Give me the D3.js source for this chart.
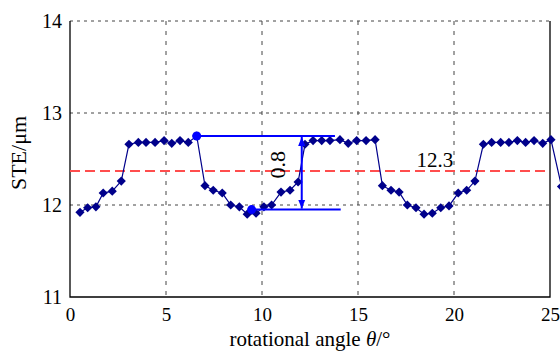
<!DOCTYPE html>
<html lang="en">
<head>
<meta charset="utf-8">
<script src="https://cdnjs.cloudflare.com/ajax/libs/d3/7.8.5/d3.min.js"></script>
<style>
  body { margin: 0; background: #fff; }
  svg { display: block; }
  svg text { font-family: "Liberation Serif", "Times New Roman", serif; fill: #000; }
</style>
</head>
<body>
<script>
var angles = [0.52, 0.92, 1.35, 1.73, 2.20, 2.67, 3.07, 3.56, 3.96, 4.43, 4.90, 5.30, 5.73, 6.16, 6.60,
  7.03, 7.46, 7.93, 8.37, 8.82, 9.23, 9.69, 10.10, 10.50, 10.99, 11.46, 11.88,
  12.24, 12.66, 13.11, 13.54, 14.06, 14.49, 14.93, 15.42, 15.89,
  16.27, 16.72, 17.14, 17.57, 18.02, 18.44, 18.87, 19.31, 19.74, 20.22, 20.66, 21.09,
  21.53, 21.96, 22.43, 22.86, 23.30, 23.73, 24.17, 24.62, 25.05, 25.60]
var ste = [11.92, 11.97, 11.98, 12.13, 12.15, 12.26, 12.66, 12.68, 12.68, 12.68, 12.70, 12.67, 12.70, 12.68, 12.75,
  12.21, 12.16, 12.13, 12.00, 11.98, 11.90, 11.91, 11.98, 12.00, 12.14, 12.16, 12.25,
  12.66, 12.70, 12.70, 12.70, 12.71, 12.67, 12.70, 12.70, 12.71,
  12.21, 12.16, 12.14, 12.00, 11.97, 11.90, 11.91, 11.97, 11.99, 12.13, 12.16, 12.26,
  12.66, 12.68, 12.68, 12.68, 12.70, 12.68, 12.70, 12.67, 12.71, 12.20]

var xTicks = [0, 5, 10, 15, 20, 25]
var yTicks = [11, 12, 13, 14]
var meanValue = 12.37
var meanLabel = "12.3"
// peak-to-valley annotation
var peak = {angle: 6.60, value: 12.75, lineEnd: 13.8}
var valley = {angle: 9.46, value: 11.95, lineEnd: 14.1}
var arrowAngle = 12.07
var rangeLabel = "0.8"

var width = 560, height = 356
var navy = "#00008b", blue = "#0000ff"

var x = d3.scaleLinear().domain([0, 25]).range([70, 550])
var y = d3.scaleLinear().domain([11, 14]).range([297, 21])

var svg = d3.select("body").append("svg")
    .attr("width", width)
    .attr("height", height)

// grid
svg.append("g")
    .attr("stroke", "#444")
    .attr("stroke-width", 1)
    .attr("stroke-dasharray", "4,6")
    .selectAll("line")
    .data(xTicks.slice(1, -1))
    .join("line")
    .attr("x1", d => x(d)).attr("x2", d => x(d))
    .attr("y1", y(14)).attr("y2", y(11))
svg.append("g")
    .attr("stroke", "#444")
    .attr("stroke-width", 1)
    .attr("stroke-dasharray", "3,4")
    .selectAll("line")
    .data(yTicks.slice(1))
    .join("line")
    .attr("x1", x(0)).attr("x2", x(25))
    .attr("y1", d => y(d)).attr("y2", d => y(d))

// axes frame (left, bottom, right)
svg.append("path")
    .attr("fill", "none")
    .attr("stroke", "#000")
    .attr("stroke-width", 1.3)
    .attr("d", `M${x(0)},${y(14)}V${y(11)}H${x(25)}V${y(14)}`)

// tick labels
var xAxis = d3.axisBottom(x).tickValues(xTicks).tickFormat(d3.format("d")).tickSize(0).tickPadding(11)
svg.append("g")
    .attr("transform", `translate(0,${y(11)})`)
    .call(xAxis)
    .call(g => g.select(".domain").remove())
    .selectAll("text")
    .style("font-size", "19px")

var yAxis = d3.axisLeft(y).tickValues(yTicks).tickFormat(d3.format("d")).tickSize(0).tickPadding(8)
svg.append("g")
    .attr("transform", `translate(${x(0)},0)`)
    .call(yAxis)
    .call(g => g.select(".domain").remove())
    .selectAll("text")
    .style("font-size", "20px")

// axis titles
var xt = svg.append("text")
    .attr("x", 310).attr("y", 346)
    .attr("text-anchor", "middle")
    .style("font-size", "21px")
xt.append("tspan").text("rotational angle ")
xt.append("tspan").attr("font-style", "italic").text("θ")
xt.append("tspan").text("/°")

svg.append("text")
    .attr("transform", "translate(26,153) rotate(-90)")
    .attr("text-anchor", "middle")
    .style("font-size", "22px")
    .text("STE/μm")

// mean line
svg.append("line")
    .attr("x1", x(0)).attr("x2", x(25))
    .attr("y1", y(meanValue)).attr("y2", y(meanValue))
    .attr("stroke", "#ff4d4d")
    .attr("stroke-width", 2)
    .attr("stroke-dasharray", "10,5")

svg.append("text")
    .attr("x", x(18.05)).attr("y", y(meanValue) - 4)
    .style("font-size", "21px")
    .text(meanLabel)

// data
var pts = angles.map((a, i) => ({a: a, v: ste[i]}))
svg.append("path")
    .datum(pts)
    .attr("fill", "none")
    .attr("stroke", navy)
    .attr("stroke-width", 1.2)
    .attr("d", d3.line().x(d => x(d.a)).y(d => y(d.v)))

svg.append("g")
    .selectAll("path")
    .data(pts)
    .join("path")
    .attr("fill", navy)
    .attr("d", d3.symbol(d3.symbolSquare, 42))
    .attr("transform", d => `translate(${x(d.a)},${y(d.v)}) rotate(45)`)

// annotation
svg.append("g").attr("stroke", blue).attr("stroke-width", 2)
    .selectAll("line")
    .data([peak, valley])
    .join("line")
    .attr("x1", d => x(d.angle)).attr("x2", d => x(d.lineEnd))
    .attr("y1", d => y(d.value)).attr("y2", d => y(d.value))

svg.append("defs").append("marker")
    .attr("id", "ah")
    .attr("viewBox", "0 0 10 10")
    .attr("refX", 10).attr("refY", 5)
    .attr("markerWidth", 9).attr("markerHeight", 11)
    .attr("markerUnits", "userSpaceOnUse")
    .attr("orient", "auto-start-reverse")
    .append("path")
    .attr("d", "M0,1L10,5L0,9Z")
    .attr("fill", blue)

svg.append("line")
    .attr("x1", x(arrowAngle)).attr("x2", x(arrowAngle))
    .attr("y1", y(peak.value) + 1).attr("y2", y(valley.value) - 1)
    .attr("stroke", blue)
    .attr("stroke-width", 2)
    .attr("marker-start", "url(#ah)")
    .attr("marker-end", "url(#ah)")

svg.append("g")
    .selectAll("circle")
    .data([peak, valley])
    .join("circle")
    .attr("cx", d => x(d.angle)).attr("cy", d => y(d.value))
    .attr("r", 4.5)
    .attr("fill", blue)

svg.append("text")
    .attr("transform", `translate(${x(arrowAngle) - 24},${(y(peak.value) + y(valley.value)) / 2 - 8}) rotate(-90)`)
    .attr("text-anchor", "middle")
    .attr("dominant-baseline", "central")
    .style("font-size", "22px")
    .text(rangeLabel)
</script>
</body>
</html>
